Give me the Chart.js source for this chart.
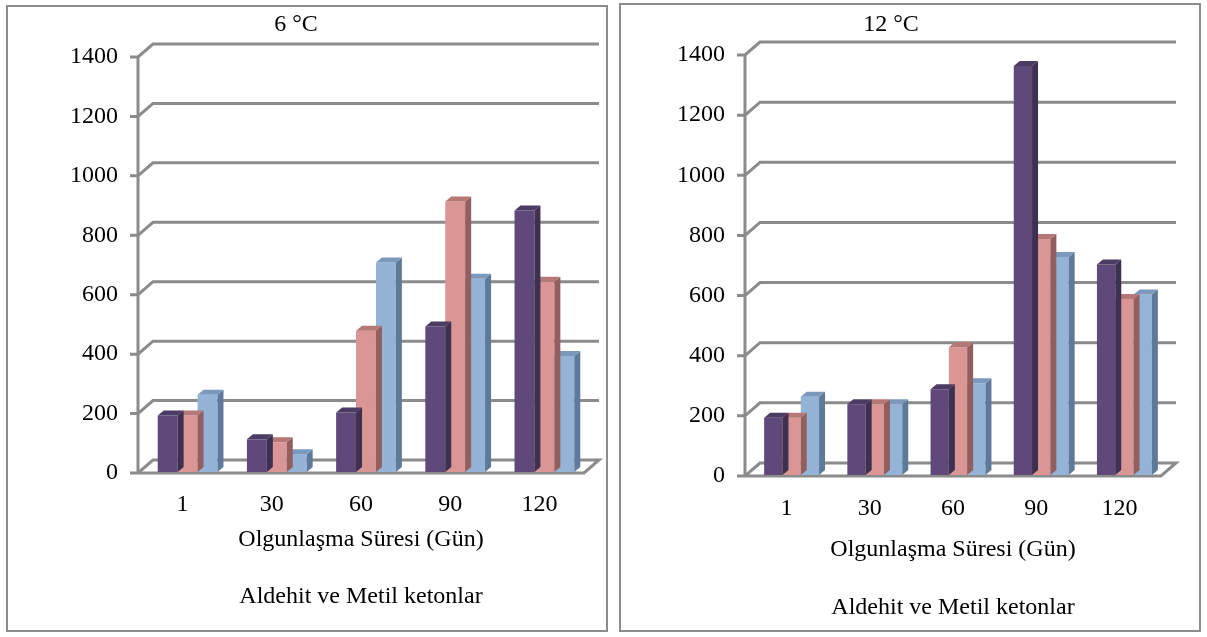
<!DOCTYPE html>
<html>
<head>
<meta charset="utf-8">
<script src="https://cdn.jsdelivr.net/npm/chart.js@4"></script>
<style>
  body { margin: 0; background: #fff; width: 1207px; height: 637px; position: relative; overflow: hidden; }
  .panel { position: absolute; border: 2px solid #8c8c8c; box-sizing: border-box; background: #fff; }
  .panel canvas { display: block; }
</style>
</head>
<body>
<div class="panel" style="left:6px;top:5px;width:602px;height:627px"><canvas id="c6" width="598" height="623"></canvas></div>
<div class="panel" style="left:619px;top:3px;width:582px;height:629px"><canvas id="c12" width="578" height="625"></canvas></div>
<script>
// categories (ripening days)
const days = ['1', '30', '60', '90', '120'];
const yMax = 1400;
const yStep = 200;

// 6 °C
const purple6 = [190, 110, 200, 490, 880];
const pink6   = [190, 100, 475, 910, 640];
const blue6   = [260, 60, 705, 650, 390];

// 12 °C
const purple12 = [190, 235, 285, 1360, 700];
const pink12   = [190, 235, 425, 785, 585];
const blue12   = [260, 235, 305, 725, 600];

const frontColors = ['#5f497a', '#d99694', '#95b3d7'];
const sideColors  = ['#3e3050', '#925f5e', '#5d7a9b'];
const topColors   = ['#4c3b63', '#b57876', '#7b98bd'];

const WALL_DX = 15, WALL_DY = 13;  // back wall depth
const BAR_DX = 6, BAR_DY = 5;      // bar depth
const gridColor = '#8b8b8b';

// fake 3d: walls + floor behind, side/top faces on bars
const box3d = {
  id: 'box3d',
  beforeDatasetsDraw(chart) {
    const { ctx, chartArea: a, scales: { y } } = chart;
    ctx.save();
    ctx.strokeStyle = gridColor;
    ctx.lineWidth = 3;
    y.ticks.forEach(t => {
      const py = y.getPixelForValue(t.value);
      ctx.beginPath();
      ctx.moveTo(a.left - 8, py);
      ctx.lineTo(a.left, py);
      ctx.lineTo(a.left + WALL_DX, py - WALL_DY);
      ctx.lineTo(a.right + WALL_DX, py - WALL_DY);
      if (t.value === 0) {
        ctx.lineTo(a.right, py);
        ctx.lineTo(a.left, py);
      }
      ctx.stroke();
    });
    ctx.beginPath();
    ctx.moveTo(a.left, y.getPixelForValue(0));
    ctx.lineTo(a.left, y.getPixelForValue(yMax));
    ctx.stroke();
    ctx.restore();
    ctx.save();
    ctx.translate(5, -1);
  },
  afterDatasetDraw(chart, args) {
    const ctx = chart.ctx;
    const i = args.index;
    args.meta.data.forEach(bar => {
      const { x, y, base, width } = bar.getProps(['x', 'y', 'base', 'width'], true);
      const l = x - width / 2, r = x + width / 2;
      ctx.fillStyle = sideColors[i];
      ctx.beginPath();
      ctx.moveTo(r, y);
      ctx.lineTo(r + BAR_DX, y - BAR_DY);
      ctx.lineTo(r + BAR_DX, base - BAR_DY);
      ctx.lineTo(r, base);
      ctx.closePath();
      ctx.fill();
      ctx.fillStyle = topColors[i];
      ctx.beginPath();
      ctx.moveTo(l, y);
      ctx.lineTo(l + BAR_DX, y - BAR_DY);
      ctx.lineTo(r + BAR_DX, y - BAR_DY);
      ctx.lineTo(r, y);
      ctx.closePath();
      ctx.fill();
    });
  },
  afterDatasetsDraw(chart) {
    chart.ctx.restore();
  }
};

const font = { family: '"Liberation Serif", "Times New Roman", serif', size: 24, weight: 'normal' };

function makeChart(id, title, series, g) {
  return new Chart(document.getElementById(id), {
    type: 'bar',
    data: {
      labels: days,
      datasets: series.map((vals, i) => ({
        data: vals,
        backgroundColor: frontColors[i],
        borderWidth: 0,
        categoryPercentage: g.cat,
        barPercentage: 1
      }))
    },
    options: {
      responsive: false,
      animation: false,
      layout: { padding: { left: 0, right: g.padR, top: 0, bottom: 0 } },
      plugins: {
        legend: { display: false },
        tooltip: { enabled: false },
        title: {
          display: true,
          text: title,
          color: '#000',
          font: font,
          padding: { top: g.tt, bottom: g.tb }
        }
      },
      scales: {
        x: {
          grid: { display: false, drawTicks: false },
          border: { display: false },
          ticks: { color: '#000', font: font, padding: g.xp, maxRotation: 0 },
          title: {
            display: true,
            text: ['Olgunlaşma Süresi (Gün)', 'Aldehit ve Metil ketonlar'],
            color: '#000',
            font: { ...font, lineHeight: g.lh },
            padding: { top: 0, bottom: g.xtb }
          },
          afterFit: s => { s.height = g.xh; }
        },
        y: {
          min: 0,
          max: yMax,
          grid: { display: false, drawTicks: false },
          border: { display: false },
          ticks: { stepSize: yStep, color: '#000', font: font, padding: 20, callback: v => String(v) },
          afterFit: s => { s.width = g.yw; }
        }
      }
    },
    plugins: [box3d]
  });
}

makeChart('c6', '6 °C', [purple6, pink6, blue6],
  { yw: 130, padR: 22, tt: 3.6, tb: 17.6, cat: 0.67, xh: 157, xp: 17.6, xtb: 4.5, lh: '57px' });
makeChart('c12', '12 °C', [purple12, pink12, blue12],
  { yw: 124, padR: 38, tt: 5.6, tb: 15.6, cat: 0.66, xh: 154, xp: 18.6, xtb: -7, lh: '58px' });
</script>
</body>
</html>
